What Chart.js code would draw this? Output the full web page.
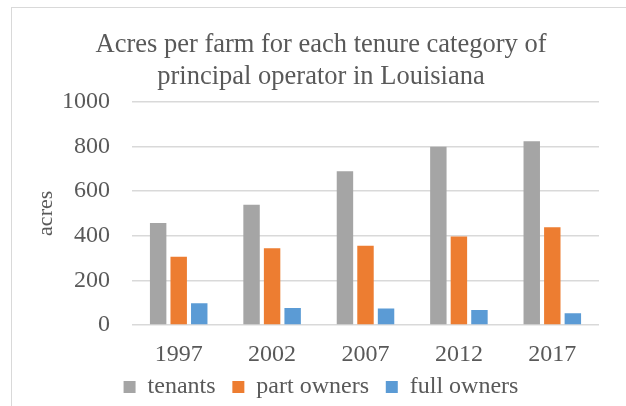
<!DOCTYPE html>
<html>
<head>
  <title>Acres per farm - Louisiana</title>
  <meta charset="UTF-8" />
  <script src="https://cdn.jsdelivr.net/npm/chart.js"></script>
  <style>
    html, body {
      margin: 0;
      padding: 0;
      background: #fff;
      overflow: hidden;
    }
    #frame {
      position: absolute;
      left: 11px;
      top: 7px;
      width: 620px;
      height: 420px;
      border: 1px solid #d9d9d9;
    }
    canvas {
      display: block;
    }
  </style>
</head>
<body>
  <div id="frame">
    <canvas id="acresChart" width="620" height="401"></canvas>
  </div>

  <script>
const years = ['1997', '2002', '2007', '2012', '2017'];
const tenants = [457, 538, 688, 798, 823];
const partOwners = [306, 343, 355, 396, 438];
const fullOwners = [97, 76, 74, 67, 53];
const yTicks = [0, 200, 400, 600, 800, 1000];

const textColor = '#595959';
const serif = '"Liberation Serif", "Times New Roman", serif';

Chart.defaults.font.family = serif;
Chart.defaults.color = textColor;

const ctx = document.getElementById('acresChart').getContext('2d');
new Chart(ctx, {
  type: 'bar',
  data: {
    labels: years,
    datasets: [
      { label: 'tenants\u2009', data: tenants, backgroundColor: '#a5a5a5' },
      { label: 'part owners\u2009', data: partOwners, backgroundColor: '#ed7d31' },
      { label: 'full owners', data: fullOwners, backgroundColor: '#5b9bd5' }
    ]
  },
  options: {
    responsive: false,
    animation: false,
    categoryPercentage: 0.66,
    barPercentage: 0.8,
    layout: { padding: { left: 31, right: 33, top: 11, bottom: 0 } },
    scales: {
      x: {
        afterFit: axis => { axis.height = 38; },
        grid: { display: false, drawTicks: false },
        border: { display: false },
        ticks: { font: { size: 24 }, padding: 15, color: textColor }
      },
      y: {
        min: 0,
        max: 1000,
        afterBuildTicks: axis => { axis.ticks = yTicks.map(v => ({ value: v })); },
        afterFit: axis => { axis.width = 89; },
        grid: { color: '#d9d9d9', lineWidth: 1.5, drawTicks: false },
        border: { display: false },
        ticks: { font: { size: 24 }, padding: 22, color: textColor, callback: v => String(v) },
        title: { display: true, text: 'acres', font: { size: 22 }, color: textColor, padding: { top: -10, bottom: 4 } }
      }
    },
    plugins: {
      title: {
        display: true,
        text: ['Acres per farm for each tenure category of', 'principal operator in Louisiana'],
        font: { size: 26.5, weight: 'normal', lineHeight: 1.2 },
        color: textColor,
        padding: { top: 10, bottom: 9 }
      },
      legend: {
        position: 'bottom',
        labels: {
          boxWidth: 12,
          boxHeight: 12,
          padding: 12,
          font: { size: 24 },
          color: textColor
        }
      },
      tooltip: { enabled: false }
    }
  }
});
  </script>
</body>
</html>
